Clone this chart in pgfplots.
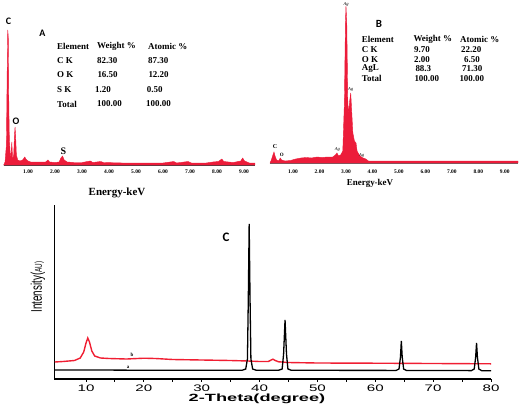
\documentclass[border=0pt]{standalone}
\usepackage{graphicx}
\usepackage{pgfplots}
\pgfplotsset{compat=1.18}
\usepackage{fontspec}
\setmainfont{Liberation Serif}
\newfontfamily\arial{Liberation Sans}
\newfontfamily\calibri{Carlito}
\definecolor{edsred}{RGB}{236,28,58}
\definecolor{xrdred}{RGB}{240,30,50}
\newcommand\wl[1]{\scalebox{1.6}[1]{#1}}
\newcommand\fs[1]{\fontsize{#1}{#1}\selectfont}
\begin{document}
\begin{tikzpicture}[x=1bp,y=1bp]
\path[use as bounding box] (0,0) rectangle (522,406);
% ---------------- Panel A ----------------
\begin{axis}[at={(3.7bp,241bp)}, anchor=south west, scale only axis,
  width=251.1bp, height=140bp, xmin=0.1, xmax=9.4, ymin=0, ymax=140,
  axis x line*=bottom, axis y line=none, axis line style={black!75, line width=0.6pt},
  xtick={1,2,3,4,5,6,7,8,9},
  xticklabels={1.00,2.00,3.00,4.00,5.00,6.00,7.00,8.00,9.00},
  xticklabel style={font=\bfseries\fs{5.5}, anchor=center, yshift=-7bp},
  major tick length=0pt, clip=false]
\addplot[draw=edsred, fill=edsred, line width=0.4pt] coordinates {
(0.10,0) (0.15,3) (0.20,20) (0.23,95) (0.25,135) (0.27,128) (0.29,60) (0.31,25) (0.34,12)
(0.37,8) (0.40,23) (0.43,6) (0.47,10) (0.50,30) (0.52,38) (0.54,30) (0.57,10) (0.62,5)
(0.70,4) (0.80,5) (0.88,8) (0.92,6) (1.00,4) (1.10,3) (1.30,3) (1.50,3) (1.65,3)
(1.74,5) (1.80,3) (2.00,2.5) (2.15,3) (2.22,7) (2.28,9) (2.34,5) (2.45,3) (2.70,2.5)
(3.00,2.5) (3.31,4) (3.40,2.5) (3.69,3.5) (3.80,2.5) (4.50,2) (5.00,2) (5.50,2) (6.00,2)
(6.40,3.5) (6.50,2) (6.93,3.5) (7.05,2) (7.60,2) (7.85,3) (8.05,3.5) (8.18,6) (8.25,3.5)
(8.60,2.5) (8.88,4) (8.95,7) (9.02,4) (9.20,2) (9.40,2)} \closedcycle;
\end{axis}
% ---------------- Panel B ----------------
\begin{axis}[at={(270bp,243bp)}, anchor=south west, scale only axis,
  width=248bp, height=163bp, xmin=0.13, xmax=9.5, ymin=0, ymax=163,
  axis x line*=bottom, axis y line=none, axis line style={black!60, line width=0.6pt},
  xtick={1,2,3,4,5,6,7,8,9},
  xticklabels={1.00,2.00,3.00,4.00,5.00,6.00,7.00,8.00,9.00},
  xticklabel style={font=\bfseries\fs{5.5}, anchor=center, yshift=-9bp},
  major tick length=0pt, clip=false]
\addplot[draw=edsred, fill=edsred, line width=0.4pt] coordinates {
(0.13,0) (0.18,3) (0.24,8) (0.28,11) (0.32,7) (0.38,3) (0.45,2) (0.52,5) (0.57,3)
(0.70,2) (0.90,2.5) (1.10,4) (1.30,5) (1.50,5.5) (1.70,5) (1.90,6) (2.10,5.5) (2.30,6)
(2.50,6) (2.60,8) (2.66,10) (2.72,7) (2.80,8) (2.88,12) (2.94,60) (2.98,140) (3.00,157)
(3.03,140) (3.07,60) (3.10,50) (3.14,62) (3.18,70) (3.21,55) (3.26,30) (3.32,22) (3.38,20)
(3.42,12) (3.50,8) (3.58,6) (3.65,5) (3.75,4) (3.85,2) (4.2,2) (5,2) (6,2) (7,2) (8,2) (9,2) (9.5,2)} \closedcycle;
\end{axis}
% ---------------- Panel C ----------------
\begin{axis}[at={(54.2bp,27bp)}, anchor=south west, scale only axis,
  width=436.8bp, height=174bp, xmin=4.5, xmax=80, ymin=0, ymax=174,
  axis x line*=bottom, axis y line*=left, axis line style={black, line width=1.3pt},
  xtick={10,20,30,40,50,60,70,80},
  xticklabels={\wl{10},\wl{20},\wl{30},\wl{40},\wl{50},\wl{60},\wl{70},\wl{80}},
  minor xtick={15,25,35,45,55,65,75},
  ytick=\empty, tick align=outside, major tick length=2.5bp, minor tick length=2.5bp,
  every tick/.style={black, line width=1pt},
  xticklabel style={font=\arial\fs{9.5}, anchor=center, yshift=-6.5bp},
  clip=false]
\addplot[xrdred, line width=1.4pt] coordinates {
(4.6,17) (6,17.5) (8,18.5) (9,21) (9.6,27) (10.0,36) (10.3,41) (10.6,37) (11.0,28)
(11.5,23) (12.5,21) (14,20.5) (17,20) (20,20.8) (22,20.5) (25,19.5) (30,19) (35,18.5)
(38,18) (40,17.5) (41.5,17.5) (42.0,19) (42.3,19.8) (42.7,18.5) (43.3,17.2) (45,16.5)
(50,16) (60,15.8) (70,15.5) (80,15.2)};
\addplot[black, line width=1.3pt] coordinates {
(4.6,9) (10,9) (20,8.8) (30,8.8) (37.0,8.8) (37.6,10) (37.9,20) (38.05,80) (38.2,155)
(38.35,80) (38.5,20) (38.8,10) (39.4,8.8) (43.3,8.8) (43.9,10) (44.15,25) (44.4,59)
(44.65,25) (44.9,10) (45.5,8.7) (63.6,8.6) (64.1,10) (64.35,22) (64.5,38) (64.65,22)
(64.9,10) (65.4,8.5) (76.6,8.4) (77.1,10) (77.35,22) (77.5,36) (77.65,22) (77.9,10)
(78.4,8.3) (80,8.3)};
\end{axis}
% ---------------- texts ----------------
% Panel A
\node[font=\calibri\bfseries\fs{10}] at (8.5,406-21.5) {C};
\node[font=\calibri\bfseries\fs{10}] at (42.5,406-33) {A};
\node[font=\calibri\bfseries\fs{10}] at (16,406-121.5) {O};
\node[font=\bfseries\fs{10}] at (63.5,406-151) {S};
\node[font=\bfseries\fs{11}] at (117,406-193) {Energy-keV};
\begin{scope}[every node/.style={font=\bfseries\fs{9}, anchor=west, inner sep=0pt}]
\node at (57,406-46) {Element};
\node at (97,406-46) {Weight \%};
\node at (148,406-46) {Atomic \%};
\node at (57,406-61) {C K};
\node at (97,406-61) {82.30};
\node at (148,406-61) {87.30};
\node at (57,406-75) {O K};
\node at (97.3,406-75) {16.50};
\node at (148.3,406-75) {12.20};
\node at (57,406-90) {S K};
\node at (95,406-90) {1.20};
\node at (146.7,406-90) {0.50};
\node at (57,406-104) {Total};
\node at (97,406-104) {100.00};
\node at (146,406-104) {100.00};
% Panel B
\node at (361.7,406-39.3) {Element};
\node at (413.3,406-39.3) {Weight \%};
\node at (460,406-39.3) {Atomic \%};
\node at (361.7,406-49.3) {C K};
\node at (414,406-49.3) {9.70};
\node at (461,406-49.3) {22.20};
\node at (361.7,406-59.3) {O K};
\node at (414,406-59.3) {2.00};
\node at (464,406-59.3) {6.50};
\node at (361.7,406-68.3) {AgL};
\node at (415.3,406-68.3) {88.3};
\node at (462,406-68.3) {71.30};
\node at (361.7,406-78.3) {Total};
\node at (414.3,406-78.3) {100.00};
\node at (459.3,406-78.3) {100.00};
\end{scope}
\node[font=\calibri\bfseries\fs{11}] at (379,406-24) {B};
\node[font=\bfseries\fs{9}] at (370,406-183.3) {Energy-keV};
\begin{scope}[every node/.style={font=\itshape\fs{4.5}, inner sep=0pt}]
\node at (346,406-4) {Ag};
\node at (350.7,406-89.3) {Ag};
\node at (337.3,406-149) {Ag};
\node at (361.7,406-155) {Ag};
\end{scope}
\node[font=\bfseries\fs{6}, inner sep=0pt] at (275,406-146.7) {C};
\node[font=\bfseries\fs{5}, inner sep=0pt] at (281.7,406-155) {O};
% Panel C
\node[font=\calibri\bfseries\fs{13}] at (226,406-237) {C};
\node[font=\bfseries\fs{5}, inner sep=0pt] at (132,406-355) {b};
\node[font=\bfseries\fs{5}, inner sep=0pt] at (128,406-367) {a};
\node[rotate=90, inner sep=0pt] at (38,406-287) {\scalebox{0.64}[1]{\arial\fs{15.5}Intensity(\fs{10}AU)}};
\node[inner sep=0pt] at (257,406-399) {\scalebox{1.74}[1]{\arial\bfseries\fs{10.5}2-Theta(degree)}};
\end{tikzpicture}
\end{document}
